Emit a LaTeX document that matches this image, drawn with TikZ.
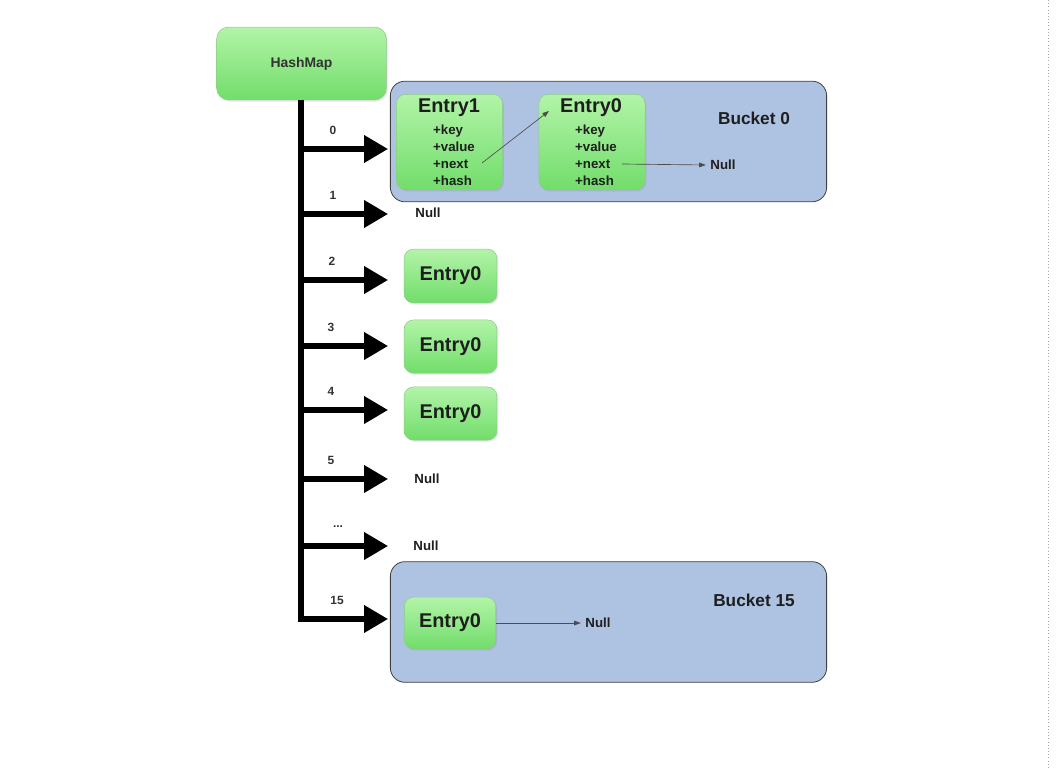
\documentclass[tikz,border=0pt]{standalone}
\usepackage{fontspec}
\setmainfont{Liberation Sans}
\usetikzlibrary{arrows.meta,shadows}

\definecolor{greentop}{HTML}{B2F4A8}
\definecolor{greenbot}{HTML}{72DD6B}
\definecolor{greenline}{HTML}{8FCB88}
\definecolor{bucketblue}{HTML}{AEC3E1}
\definecolor{textdark}{HTML}{1E1E1E}

\newcommand{\slotdots}{...}

\tikzset{
  greenbox/.style={draw=greenline, line width=0.4pt, top color=greentop, bottom color=greenbot,
    rounded corners=7pt, drop shadow={opacity=0.2, shadow xshift=1pt, shadow yshift=-1.2pt}},
  bucketbox/.style={draw=black!75, line width=0.6pt, fill=bucketblue, rounded corners=11pt,
    minimum width=329pt, minimum height=91pt},
  trunk/.style={line width=3.8pt, line cap=butt},
  branch/.style={line width=3.8pt, -{Triangle[length=18pt,width=20pt]}},
  link/.style={draw=black!70, line width=0.5pt, -{Triangle[length=5pt,width=3.5pt]}},
  idx/.style={font=\fontsize{9}{10}\selectfont\bfseries, text=black!80},
  nulltxt/.style={font=\fontsize{10}{11}\selectfont\bfseries, text=textdark},
  title/.style={font=\fontsize{15}{16}\selectfont\bfseries, text=textdark},
  fields/.style={font=\fontsize{10}{12.75}\selectfont\bfseries, text=textdark, align=left, inner sep=0pt},
}

\begin{document}
\begin{tikzpicture}[x=0.0265cm, y=-0.0265cm]

    \useasboundingbox (0,0) rectangle (1058,770);
    \fill[white] (0,0) rectangle (1058,770);
    \draw[black!35, dotted, line width=0.4pt] (1048,0) -- (1048,770);

    % HashMap
    \node[greenbox, minimum width=128pt, minimum height=55pt, rounded corners=9pt,
          font=\fontsize{10.5}{12}\selectfont\bfseries, text=black!80] (hashmap) at (301.5,63.5) {HashMap};

    % Buckets
    \node[bucketbox] (bucket0) at (608.5,141.5) {};
    \node[bucketbox] (bucket15) at (608.5,622) {};
    \node[font=\fontsize{13}{14}\selectfont\bfseries, text=textdark] (lbl0) at (754,118) {Bucket 0};
    \node[font=\fontsize{13}{14}\selectfont\bfseries, text=textdark] (lbl15) at (754,600) {Bucket 15};

    % Table
    \foreach \i/\y/\lab/\lx in {0/149/0/333, 1/214/1/333, 2/280/2/332, 3/346/3/331,
                                 4/410/4/331, 5/479/5/331, 6/546/{\slotdots}/338, 15/619/15/337} {
        \coordinate (b\i) at (301,\y);
        \coordinate (t\i) at (388,\y);
        \draw[branch] (b\i) -- (t\i);
        \node[idx] (idx\i) at (\lx,\y-19) {\lab};
    }
    \draw[trunk] (hashmap.south -| b0) -- ([yshift=-1.9pt]b15);

    % Entries of bucket 0
    \node[greenbox, minimum width=80pt, minimum height=72pt] (entry1) at (449.5,142) {};
    \node[greenbox, minimum width=80pt, minimum height=72pt] (entry0) at (592,142) {};
    \node[title] (entry1title) at (449,108) {Entry1};
    \node[title] (entry0title) at (591,108) {Entry0};
    \node[fields] (entry1fields) at (454,155) {+key\\+value\\+next\\+hash};
    \node[fields] (entry0fields) at (596,155) {+key\\+value\\+next\\+hash};
    \coordinate (next1) at (482,163);
    \coordinate (next0) at (622,164);
    \coordinate (entry0in) at (549,111);
    \node[nulltxt] (null0) at (723,165) {Null};
    \draw[link] (next1) -- (entry0in);
    \draw[link] (next0) -- (null0.west);

    % Other slots
    \node[nulltxt] (null1) at (428,213) {Null};
    \node[greenbox, minimum width=70pt, minimum height=40.5pt, title] (slot2) at (450.5,276) {Entry0};
    \node[greenbox, minimum width=70pt, minimum height=40pt, title] (slot3) at (450.5,346.5) {Entry0};
    \node[greenbox, minimum width=70pt, minimum height=40pt, title] (slot4) at (450.5,413.5) {Entry0};
    \node[nulltxt] (null5) at (427,479) {Null};
    \node[nulltxt] (null6) at (426,546) {Null};

    % Bucket 15
    \node[greenbox, minimum width=69pt, minimum height=39pt, title] (slot15) at (450,623) {Entry0};
    \node[nulltxt] (null15) at (598,623) {Null};
    \draw[link] (slot15.east) -- (null15.west);

\end{tikzpicture}
\end{document}
